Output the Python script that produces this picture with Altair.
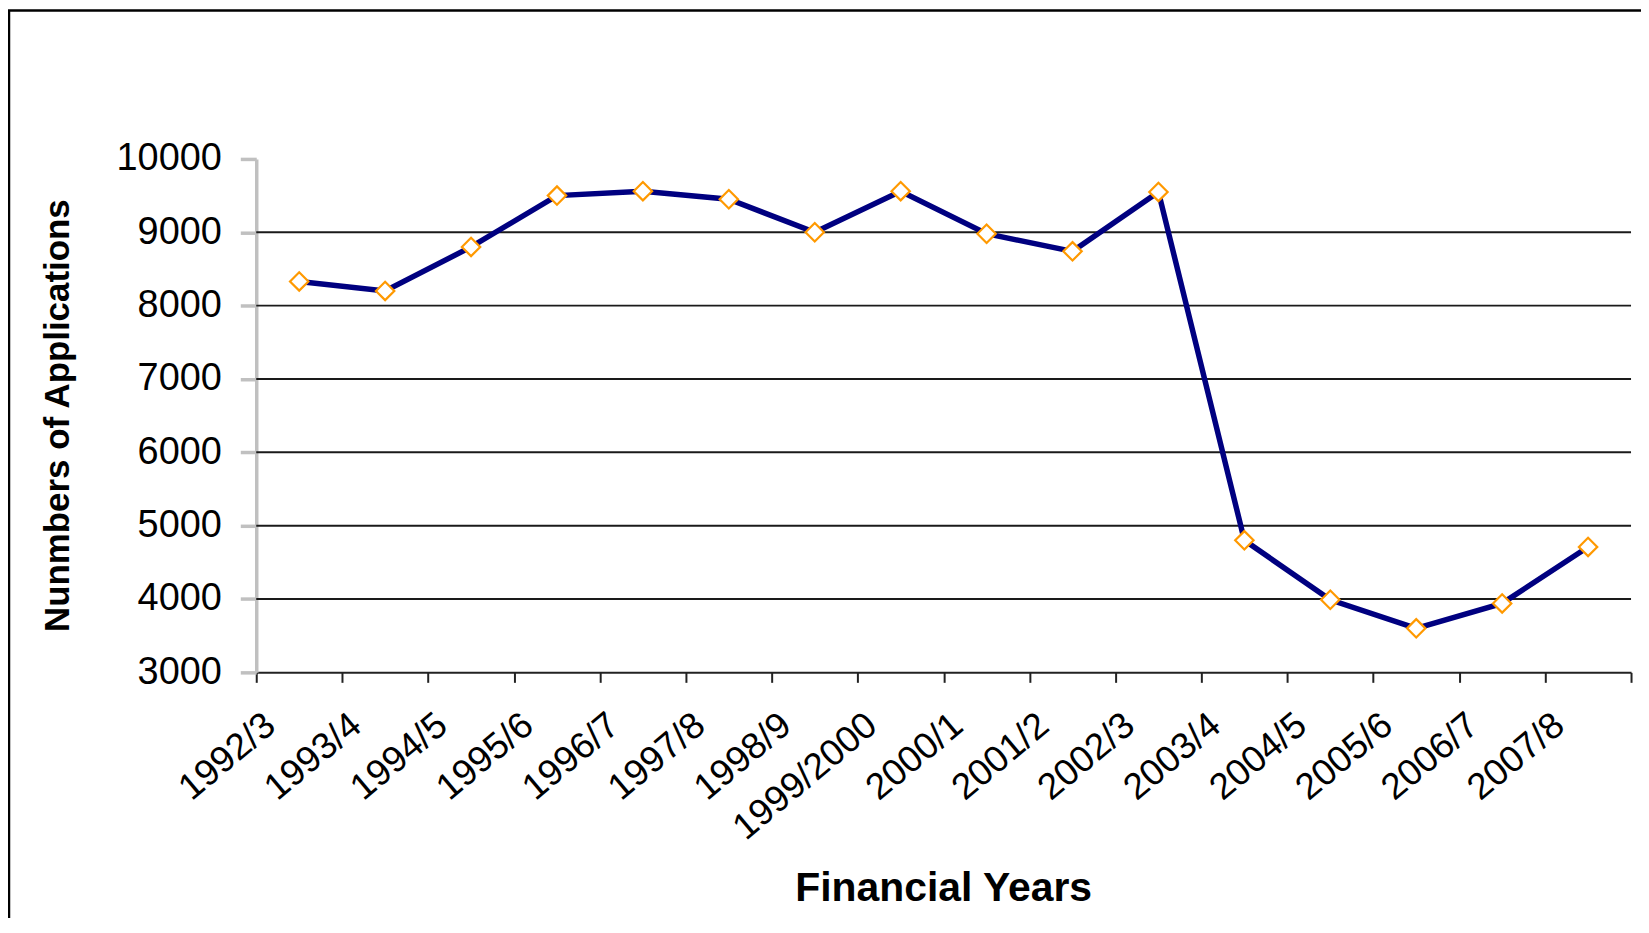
import altair as alt
import pandas as pd

# ---- data ----
years = ["1992/3", "1993/4", "1994/5", "1995/6", "1996/7", "1997/8", "1998/9",
         "1999/2000", "2000/1", "2001/2", "2002/3", "2003/4", "2004/5",
         "2005/6", "2006/7", "2007/8"]
applications = [8330, 8200, 8800, 9500, 9560, 9450, 9000,
                9560, 8980, 8740, 9550, 4800, 3990, 3600, 3940, 4710]
y_ticks = [3000, 4000, 5000, 6000, 7000, 8000, 9000, 10000]
grid_values = [4000, 5000, 6000, 7000, 8000, 9000]

df = pd.DataFrame({"year": years, "apps": applications})
grid_df = pd.DataFrame({"g": grid_values})
frame_df = pd.DataFrame({"k": [0]})

W, H = 1379, 515
FONT = "Liberation Sans"

x_axis = alt.Axis(
    title="Financial Years",
    titleFont=FONT, titleFontSize=41, titleFontWeight="bold", titleColor="black",
    titleX=689, titleY=229, titleAlign="center", titleBaseline="alphabetic",
    labelFont=FONT, labelFontSize=37, labelColor="black",
    labelAngle=-40, labelAlign="right", labelBaseline="middle",
    labelOffset=-29, labelPadding=38, labelOverlap=False,
    tickBand="extent", tickSize=10, tickWidth=2, tickColor="#222222",
    domainColor="#222222", domainWidth=2, grid=False,
)
x_scale = alt.Scale(type="band", paddingInner=0, paddingOuter=0)

y_scale = alt.Scale(domain=[3000, 10000], nice=False, zero=False)
y_axis = alt.Axis(
    title="Nunmbers of Applications",
    titleFont=FONT, titleFontSize=35, titleFontWeight="bold", titleColor="black",
    titleX=-188, titleY=257, titleAngle=-90, titleAlign="center", titleBaseline="alphabetic",
    values=y_ticks, format="d",
    labelFont=FONT, labelFontSize=38, labelColor="black", labelPadding=19,
    tickSize=16, tickWidth=3.5, tickColor="#C0C0C0",
    domainColor="#C0C0C0", domainWidth=3.5, grid=False,
)

grid = alt.Chart(grid_df).mark_rule(color="#1a1a1a", strokeWidth=2).encode(
    y=alt.Y("g:Q", scale=y_scale, axis=y_axis)
)

line = alt.Chart(df).mark_line(color="#000080", strokeWidth=5.5).encode(
    x=alt.X("year:N", sort=years, scale=x_scale, axis=x_axis),
    y=alt.Y("apps:Q", scale=y_scale, axis=y_axis),
)

points = alt.Chart(df).mark_point(
    shape="diamond", filled=True, fill="white", stroke="#FF9900",
    strokeWidth=2.2, size=340, opacity=1,
).encode(
    x=alt.X("year:N", sort=years, scale=x_scale, axis=x_axis),
    y=alt.Y("apps:Q", scale=y_scale, axis=y_axis),
)

frame = alt.Chart(frame_df).mark_rect(
    fill="transparent", stroke="black", strokeWidth=2.5
).encode(
    x=alt.value(-248), x2=alt.value(1500),
    y=alt.value(-149), y2=alt.value(1000),
)

chart = alt.layer(grid, line, points, frame).properties(
    width=W, height=H,
    autosize=alt.AutoSizeParams(type="none"),
    padding={"left": 249, "top": 150, "right": 10, "bottom": 245},
    background="white",
).configure_view(stroke=None)

chart.save("out.html", embed_options={"renderer": "svg", "actions": False})
